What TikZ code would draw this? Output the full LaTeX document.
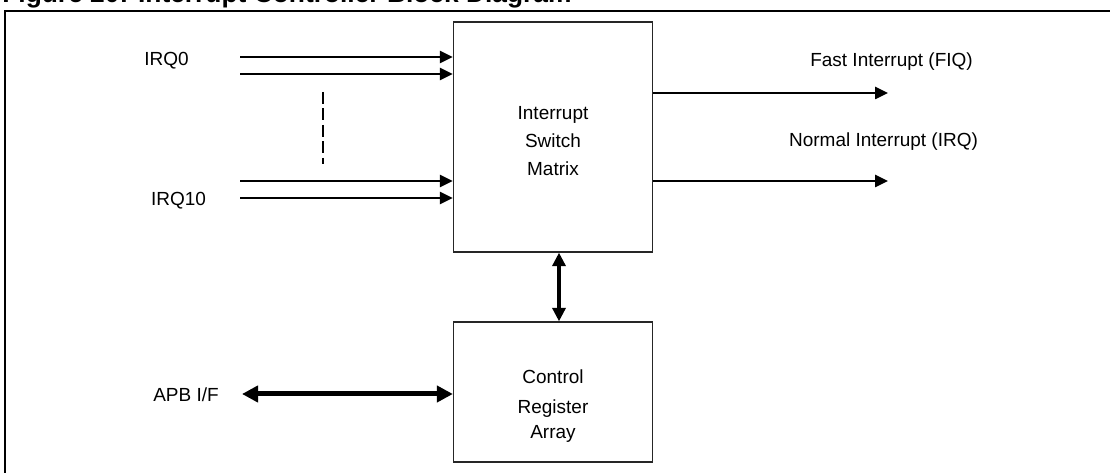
\documentclass[tikz,border=0pt]{standalone}
\usepackage{fontspec}
\setmainfont{Liberation Sans}
\usetikzlibrary{arrows.meta}
\tikzset{
  box/.style={draw=black!85, line width=0.025cm, minimum width=3.98cm, inner sep=0pt},
  sig/.style={line width=0.05cm, -{Triangle[length=0.26cm,width=0.24cm]}},
  busv/.style={line width=0.075cm, {Triangle[length=0.27cm,width=0.26cm]}-{Triangle[length=0.27cm,width=0.26cm]}},
  bush/.style={line width=0.1cm, {Triangle[length=0.32cm,width=0.32cm]}-{Triangle[length=0.32cm,width=0.32cm]}},
  lbl/.style={font=\fontsize{10.8}{15.9}\selectfont, inner sep=0pt, align=center},
}

\begin{document}
\begin{tikzpicture}
    \useasboundingbox (0,0) rectangle (22.2,9.44);
    % caption, cut off at the top
    \node[anchor=base west, inner sep=0pt, font=\fontsize{15}{18}\selectfont\bfseries] (title) at (0.04,9.38) {Figure 20: Interrupt Controller Block Diagram};
    \draw[line width=0.05cm] (0.1,-1) -- (0.1,9.22) -- (23,9.22);

    % blocks
    \node[box, minimum height=4.6cm] (ism) at (11.06,6.7) {};
    \node[lbl] (ismtext) at ([yshift=-0.08cm]ism.center) {Interrupt\\Switch\\Matrix};
    \node[box, minimum height=2.8cm] (ctrl) at (11.06,1.6) {};
    \node[lbl, below=0pt] (ctrltext) at ([yshift=0.45cm]ctrl.center) {Control\\[1.2pt]Register\\[-2pt]Array};

    % interrupt inputs
    \coordinate (i0a) at (4.8,8.30);
    \coordinate (i0b) at (4.8,7.96);
    \coordinate (i10a) at (4.8,5.82);
    \coordinate (i10b) at (4.8,5.48);
    \foreach \c in {i0a,i0b,i10a,i10b}
        \draw[sig] (\c) -- (\c -| ism.west);
    \node[lbl] (irq0) at (3.33,8.23) {IRQ0};
    \node[lbl] (irq10) at (3.57,5.43) {IRQ10};
    \coordinate (dtop) at (6.46,7.6);
    \coordinate (dbot) at (6.46,6.16);
    \draw[line width=0.045cm, dash pattern=on 0.24cm off 0.09cm] (dtop) -- (dbot);

    % outputs
    \coordinate (fiqend) at (17.76,7.58);
    \coordinate (irqend) at (17.76,5.82);
    \draw[sig] (fiqend -| ism.east) -- (fiqend);
    \draw[sig] (irqend -| ism.east) -- (irqend);
    \node[lbl] (fiq) at (17.83,8.2) {Fast Interrupt (FIQ)};
    \node[lbl] (nirq) at (17.67,6.6) {Normal Interrupt (IRQ)};

    % register access
    \draw[busv] ([xshift=0.12cm]ism.south) -- ([xshift=0.12cm]ctrl.north);
    \coordinate (apb) at (4.84,1.56);
    \draw[bush] (apb) -- (apb -| ctrl.west);
    \node[lbl] (apblbl) at (3.72,1.54) {APB I/F};
\end{tikzpicture}
\end{document}
